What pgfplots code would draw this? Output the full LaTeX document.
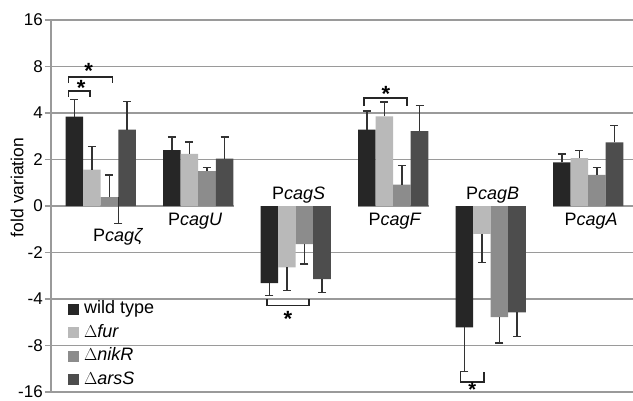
\documentclass[border=0pt]{standalone}
\usepackage{pgfplots}
\pgfplotsset{compat=1.18}
\usepackage{pgfplotstable}
\usepackage{fontspec}
\setmainfont{Liberation Sans}
\definecolor{cwild}{HTML}{262626}
\definecolor{cfur}{HTML}{B9B9B9}
\definecolor{cnik}{HTML}{8C8C8C}
\definecolor{cars}{HTML}{4D4D4D}
\definecolor{gridc}{HTML}{9A9A9A}
\definecolor{errc}{HTML}{333333}
\pgfplotstableread{
x y e
0 1.92 0.37
1 1.20 0.28
2 -1.66 -0.27
3 1.64 0.40
4 -2.61 -0.95
5 0.94 0.18
}\wild
\pgfplotstableread{
x y e
0 0.78 0.50
1 1.12 0.26
2 -1.32 -0.50
3 1.93 0.31
4 -0.60 -0.61
5 1.03 0.17
}\fur
\pgfplotstableread{
x y e
0 0.19 0.48
1 0.75 0.08
2 -0.82 -0.43
3 0.46 0.41
4 -2.39 -0.56
5 0.67 0.16
}\nik
\pgfplotstableread{
x y e
0 1.64 0.61
1 1.02 0.46
2 -1.57 -0.29
3 1.61 0.55
4 -2.29 -0.52
5 1.37 0.36
}\ars
\pgfplotsset{
  errb/.style={error bars/.cd, y dir=plus, y explicit,
    error bar style={draw=errc, line width=1.4pt},
    error mark options={draw=errc, line width=1.4pt, mark size=4pt, rotate=90}},
}
\begin{document}
\begin{tikzpicture}
\useasboundingbox (-51pt,-8pt) rectangle (582pt,392pt);
\begin{axis}[
  scale only axis, width=582pt, height=372pt,
  xmin=-0.51, xmax=5.46, ymin=-4, ymax=4,
  clip=false,
  ybar=0pt, bar width=0.18,
  axis lines*=left,
  axis line style={draw=gridc, line width=2.4pt},
  xtick=\empty,
  ytick={-4,-3,-2,-1,0,1,2,3,4},
  yticklabels={{-16},{-8},{-4},{-2},{0},{2},{4},{8},{16}},
  /pgf/number format/assume math mode=true,
  tick align=outside, major tick length=6pt,
  ytick style={draw=gridc, line width=1.8pt},
  yticklabel style={font=\fontsize{17}{17}\selectfont, inner sep=2pt},
  ymajorgrids, grid style={draw=gridc, line width=1.8pt},
  legend style={at={(0.029,0.249)}, anchor=north west, draw=none, fill=none,
    font=\fontsize{18}{20}\selectfont, inner sep=0pt, row sep=4.5pt,
    nodes={inner sep=1pt, text height=13pt, text depth=4pt},
    /tikz/every odd column/.append style={column sep=4pt}},
  legend cell align=left,
  legend image code/.code={\fill[#1] (0pt,-5.5pt) rectangle (11pt,5.5pt);},
]
% white boxes behind labels (drawn before bars)
\fill[white] (axis cs:1.365,-0.03) rectangle (axis cs:2.635,0.6);
\fill[white] (axis cs:3.365,-0.03) rectangle (axis cs:4.635,0.6);
\addplot[fill=cwild, draw=none, bar shift=-0.27, errb] table[x=x, y=y, y error=e] {\wild};
\addplot[fill=cfur, draw=none, bar shift=-0.09, errb] table[x=x, y=y, y error=e] {\fur};
\addplot[fill=cnik, draw=none, bar shift=0.09, errb] table[x=x, y=y, y error=e] {\nik};
\addplot[fill=cars, draw=none, bar shift=0.27, errb] table[x=x, y=y, y error=e] {\ars};
\addplot[sharp plot, draw=none, mark=none, forget plot, errb] coordinates {(0.09,0.19) +- (0,-0.56)};
\legend{wild type, $\Delta$\textit{fur}, $\Delta$\textit{nikR}, $\Delta$\textit{arsS}}
% group labels
\tikzset{glab/.style={anchor=base, inner sep=0pt, font=\fontsize{18}{18}\selectfont}}
\node[glab] at (axis cs:0.18,-0.77) {P\textit{cagζ}};
\node[glab] at (axis cs:0.97,-0.42) {P\textit{cagU}};
\node[glab] at (axis cs:2.03,0.15) {P\textit{cagS}};
\node[glab] at (axis cs:3.02,-0.42) {P\textit{cagF}};
\node[glab] at (axis cs:4.02,0.15) {P\textit{cagB}};
\node[glab] at (axis cs:5.03,-0.42) {P\textit{cagA}};
% brackets
\tikzset{brk/.style={draw=black!85, line width=1.7pt},
  star/.style={anchor=base, inner sep=0pt, yshift=-11pt, font=\fontsize{22}{22}\selectfont\bfseries}}
\draw[brk] (axis cs:-0.33,2.64) -- (axis cs:-0.33,2.78) -- (axis cs:0.121,2.78) -- (axis cs:0.121,2.64);
\node[star] at (axis cs:-0.125,2.98) {*};
\draw[brk] (axis cs:-0.33,2.35) -- (axis cs:-0.33,2.48) -- (axis cs:-0.108,2.48) -- (axis cs:-0.108,2.35);
\node[star] at (axis cs:-0.2,2.61) {*};
\draw[brk] (axis cs:2.70,2.15) -- (axis cs:2.70,2.32) -- (axis cs:3.14,2.32) -- (axis cs:3.14,2.15);
\node[star] at (axis cs:2.925,2.48) {*};
\draw[brk] (axis cs:1.705,-2.0) -- (axis cs:1.705,-2.14) -- (axis cs:2.14,-2.14) -- (axis cs:2.14,-2.0);
\node[star] at (axis cs:1.92,-2.36) {*};
\draw[brk] (axis cs:3.69,-3.57) -- (axis cs:3.69,-3.78) -- (axis cs:3.93,-3.78) -- (axis cs:3.93,-3.57);
\node[star, font=\fontsize{20}{20}\selectfont\bfseries, yshift=1pt] at (axis cs:3.81,-3.88) {*};
% y label
\node[rotate=90, anchor=center, inner sep=0pt, font=\fontsize{17.5}{17.5}\selectfont] at (rel axis cs:-0.058,0.55) {fold variation};
\end{axis}
\end{tikzpicture}
\end{document}
